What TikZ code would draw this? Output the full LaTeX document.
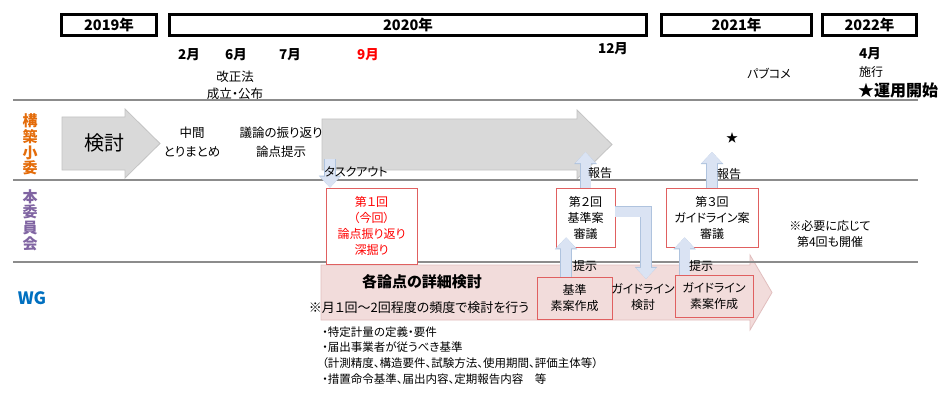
\documentclass[tikz,border=0pt]{standalone}
\usepackage{fontspec}
\setmainfont{Noto Sans CJK JP}[RawFeature=+palt]
\usepackage{tikz}
\usetikzlibrary{arrows.meta,positioning,calc}
\definecolor{grayfill}{RGB}{217,217,217}
\definecolor{graybd}{RGB}{195,195,195}
\definecolor{pinkfill}{RGB}{242,220,219}
\definecolor{pinkbd}{RGB}{225,190,190}
\definecolor{lbfill}{RGB}{218,227,243}
\definecolor{lbbd}{RGB}{175,195,222}
\definecolor{boxred}{RGB}{224,96,96}
\definecolor{orng}{RGB}{228,108,10}
\definecolor{purp}{RGB}{128,100,162}
\definecolor{wgblue}{RGB}{0,112,192}
\definecolor{sepgray}{RGB}{140,140,140}
\tikzset{yearbox/.style={draw=black,line width=3pt,fill=white,inner sep=0pt,minimum height=21pt,
 font=\fontsize{14.5}{14.5}\selectfont\bfseries},
 mon/.style={font=\fontsize{13.5}{14}\selectfont\bfseries},
 txt/.style={align=center,inner sep=0pt,font=\fontsize{12}{16}\selectfont},
 rbox/.style={draw=boxred,line width=0.8pt,align=center,inner sep=0pt,font=\fontsize{12}{16}\selectfont},
 blk/.style={line width=10pt,draw=lbfill,-{Triangle[width=20pt,length=11pt,line width=0pt]},
  preaction={draw=lbbd,line width=11.6pt,-{Triangle[width=22.5pt,length=12pt,line width=0pt]}}},
 bigarr/.style={draw=graybd,fill=grayfill,line width=0.8pt},
 pinkarr/.style={draw=pinkbd,fill=pinkfill,line width=0.8pt},
 sep/.style={draw=sepgray,line width=1.3pt},
 rowlbl/.style={align=center,inner sep=0pt,font=\fontsize{15}{15.8}\selectfont\bfseries}}
\begin{document}
\begin{tikzpicture}[x=1pt,y=-1pt]
\useasboundingbox (0,0) rectangle (950,401);
\fill[white] (0,0) rectangle (950,401);
% years and months
\node[yearbox,minimum width=95pt] (yr19) at (109,25) {2019年};
\node[yearbox,minimum width=477pt] (yr20) at (408,25) {2020年};
\node[yearbox,minimum width=150pt] (yr21) at (736.5,25) {2021年};
\node[yearbox,minimum width=94pt] (yr22) at (869.5,25) {2022年};
\node[mon] (m2) at (189,55) {2月};
\node[mon] (m6) at (236,55) {6月};
\node[mon] (m7) at (290,55) {7月};
\node[mon,text=red] (m9) at (368,55) {9月};
\node[mon] (m12) at (613,49) {12月};
\node[mon] (m4) at (870,54) {4月};
\node[txt,font=\fontsize{12.5}{17}\selectfont] (kaisei) at (235,85.5) {改正法\\成立・公布};
\node[txt] (pabu) at (769,74) {パブコメ};
\node[txt] (shiko) at (871,72) {施行};
\node[txt,font=\fontsize{16}{16}\selectfont\bfseries] (unyo) at (898,90) {★運用開始};
% rows
\node[rowlbl,text=orng] (kochiku) at (30,144.5) {構\\築\\小\\委};
\node[rowlbl,text=purp] (honiin) at (30,220) {本\\委\\員\\会};
\node[rowlbl,text=wgblue,font=\fontsize{17}{17}\selectfont\bfseries] (wg) at (32,298) {WG};
% big arrows
\draw[pinkarr] (321,265) -- (750,265) -- (750,255) -- (772,292.5) -- (750,330) -- (750,320) -- (321,320) -- cycle;
\draw[bigarr] (62,117) -- (125,117) -- (125,109) -- (160,143.5) -- (125,178) -- (125,170) -- (62,170) -- cycle;
\draw[bigarr] (322,119) -- (577,119) -- (577,110) -- (612,144.5) -- (577,179) -- (577,170) -- (322,170) -- cycle;
\foreach \y in {100,180,262}{\draw[sep] (13,\y) -- (918,\y);}
\node[txt,font=\fontsize{20}{20}\selectfont] (kento) at (104,143) {検討};
\node[txt,font=\fontsize{12.5}{19}\selectfont] (chukan) at (192,142.5) {中間\\とりまとめ};
\node[txt,font=\fontsize{12.5}{19}\selectfont] (giron) at (281,142.5) {議論の振り返り\\論点提示};
% meetings
\node[rbox,fill=white,text=red,minimum width=91pt,minimum height=76pt] (r1) at (371.5,226) {第１回\\（今回）\\論点振り返り\\深掘り};
\node[rbox,fill=white,minimum width=59pt,minimum height=59pt] (r2) at (585.5,217.5) {第２回\\基準案\\審議};
\node[rbox,fill=white,minimum width=92pt,minimum height=59pt] (r3) at (712,217.5) {第３回\\ガイドライン案\\審議};
\node[txt] (hitsuyo) at (830,234) {※必要に応じて\\第4回も開催};
% WG
\node[txt,font=\fontsize{15}{15}\selectfont\bfseries] (shosai) at (422,282) {各論点の詳細検討};
\node[txt,font=\fontsize{13}{14}\selectfont] (hindo) at (419,308) {※月１回～2回程度の頻度で検討を行う};
\node[rbox,minimum width=75pt,minimum height=42pt] (kj) at (574.5,298) {基準\\素案作成};
\node[txt] (glk) at (643,297.5) {ガイドライン\\検討};
\node[rbox,minimum width=78pt,minimum height=42pt] (gs) at (714,296) {ガイドライン\\素案作成};
\node[txt,align=left,anchor=west,font=\fontsize{11.5}{15.7}\selectfont] (items) at (322,355.5)
 {・特定計量の定義・要件\\・届出事業者が従うべき基準\\（計測精度、構造要件、試験方法、使用期間、評価主体等）\\・措置命令基準、届出内容、定期報告内容　等};
% connectors
\coordinate (task) at (330,159);
\coordinate (rep2) at (585.5,152);
\coordinate (rep3) at (712,152);
\draw[blk] (task) -- (task |- r1.north);
\draw[blk] (r2.north) -- (rep2);
\draw[blk] (r3.north) -- (rep3);
\draw[blk] ($(r2.south west |- kj.north)+(10.5,0)$) -- ($(r2.south west)+(10.5,-10)$);
\draw[blk] ($(r3.south west |- gs.north)+(19,0)$) -- ($(r3.south west)+(19,-10)$);
\draw[blk] ($(r2.east)+(0,-6)$) -| ($(glk.north)+(3,-5)$);
\node[txt] (tasklbl) at (356,172) {タスクアウト};
\node[txt] (hok2) at (600,173) {報告};
\node[txt] (hok3) at (729,174) {報告};
\node[txt] (tei2) at (585,266) {提示};
\node[txt] (tei3) at (701,266) {提示};
\node[txt] (star) at (732,138) {★};
\end{tikzpicture}
\end{document}
